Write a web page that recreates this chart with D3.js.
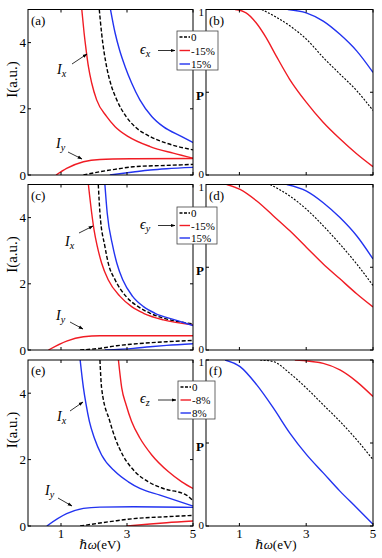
<!DOCTYPE html>
<html>
<head>
<meta charset="utf-8">
<script src="https://cdn.jsdelivr.net/npm/d3@7"></script>
<style>
  body { margin: 0; background: #fff; }
  svg, svg text { font-family: "Liberation Serif", "DejaVu Serif", serif; }
</style>
</head>
<body>
<script>
var xTicks = [1, 3, 5];
var iTicks = [0, 2, 4];
var pTicks = [0, 0.5, 1];

// (a) strain along x
var aIxRed  = [[1.63,5],[1.70,4.29],[1.76,3.79],[1.83,3.28],[1.93,2.78],[2.08,2.27],[2.38,1.77],[2.64,1.46],[3.04,1.16],[3.70,0.86],[4.40,0.66],[5,0.51]];
var aIxZero = [[2.16,5],[2.23,4.29],[2.38,3.28],[2.50,2.78],[2.69,2.27],[2.97,1.77],[3.24,1.46],[3.70,1.16],[4.20,0.96],[5,0.76]];
var aIxBlue = [[2.50,5],[2.64,4.29],[2.77,3.79],[2.94,3.28],[3.14,2.78],[3.39,2.27],[3.75,1.77],[4.10,1.46],[4.66,1.16],[5,0.98]];
var aIyRed  = [[0.85,0],[1.17,0.2],[1.68,0.4],[2.18,0.47],[3.19,0.49],[5,0.5]];
var aIyZero = [[1.68,0],[2.18,0.1],[2.69,0.18],[3.19,0.25],[4.2,0.29],[5,0.32]];
var aIyBlue = [[2.48,0],[3.19,0.09],[3.7,0.15],[4.2,0.19],[5,0.23]];
// (b)
var bPRed  = [[0.87,1],[1.2,0.98],[1.5,0.92],[1.8,0.83],[2.1,0.72],[2.5,0.58],[3.0,0.44],[3.5,0.32],[4.0,0.22],[4.5,0.13],[5,0.05]];
var bPZero = [[1.67,1],[2.52,0.9],[3.01,0.82],[3.51,0.71],[4.01,0.61],[4.51,0.51],[5,0.39]];
var bPBlue = [[2.45,1],[3.0,0.98],[3.51,0.93],[4.01,0.85],[4.51,0.75],[5,0.62]];

// (c) strain along y
var cIxRed  = [[1.83,5],[1.93,4.14],[2.0,3.64],[2.1,3.13],[2.23,2.63],[2.43,2.12],[2.79,1.62],[3.14,1.31],[3.5,1.11],[4.1,0.91],[5,0.76]];
var cIxZero = [[2.13,5],[2.18,4.14],[2.33,3.13],[2.43,2.63],[2.64,2.12],[2.97,1.62],[3.34,1.31],[3.7,1.11],[4.3,0.91],[5,0.79]];
var cIxBlue = [[2.33,5],[2.4,4.14],[2.57,3.13],[2.69,2.63],[2.87,2.12],[3.17,1.62],[3.5,1.31],[3.85,1.11],[4.45,0.91],[5,0.74]];
var cIyRed  = [[0.62,0],[1.17,0.27],[1.68,0.4],[2.18,0.43],[5,0.43]];
var cIyZero = [[1.58,0],[2.18,0.05],[2.69,0.13],[3.19,0.18],[4.2,0.25],[5,0.29]];
var cIyBlue = [[2.33,0],[3.19,0.05],[3.7,0.1],[4.2,0.14],[5,0.19]];
// (d)
var dPRed  = [[0.62,1],[1.02,0.97],[1.52,0.9],[2.02,0.81],[2.51,0.72],[3.01,0.62],[3.51,0.52],[4.01,0.43],[4.51,0.34],[5,0.26]];
var dPZero = [[1.92,1],[2.51,0.93],[3.01,0.85],[3.51,0.75],[4.01,0.64],[4.51,0.52],[5,0.39]];
var dPBlue = [[2.42,1],[3.01,0.96],[3.51,0.89],[4.01,0.8],[4.51,0.69],[5,0.55]];

// (e) strain along z
var eIxRed  = [[2.74,5],[2.84,4.16],[2.97,3.66],[3.14,3.15],[3.39,2.65],[3.75,2.14],[4.25,1.64],[4.66,1.33],[5,1.13]];
var eIxZero = [[2.18,5],[2.23,4.16],[2.48,3.15],[2.64,2.65],[2.87,2.14],[3.24,1.64],[3.65,1.33],[4.1,1.13],[4.8,0.93],[5,0.76]];
var eIxBlue = [[1.58,5],[1.68,4.16],[1.76,3.66],[1.86,3.15],[2.01,2.65],[2.23,2.14],[2.64,1.64],[3.04,1.33],[3.39,1.13],[4.0,0.93],[5,0.6]];
var eIyRed  = [[2.99,0],[3.7,0.06],[4.2,0.1],[5,0.15]];
var eIyZero = [[1.58,0],[2.18,0.09],[2.69,0.16],[3.19,0.22],[4.2,0.28],[5,0.32]];
var eIyBlue = [[0.57,0],[1.17,0.37],[1.68,0.53],[2.18,0.57],[3.19,0.58],[5,0.56]];
// (f)
var fPRed  = [[2.66,1],[3.51,0.98],[4.01,0.94],[4.51,0.87],[5,0.78]];
var fPZero = [[1.62,1],[2.02,0.99],[2.51,0.92],[3.01,0.83],[3.51,0.73],[4.01,0.63],[4.51,0.52],[5,0.4]];
var fPBlue = [[0.57,1],[1.02,0.96],[1.52,0.85],[2.02,0.71],[2.51,0.56],[3.01,0.43],[3.51,0.32],[4.01,0.21],[4.51,0.11],[5,0.01]];

var legendZ = ["0", "-15%", "15%"];
var legendZz = ["0", "-8%", "8%"];

var RED = "#f01c24", BLUE = "#2233f0", BLACK = "#000";
var SERIF = "'Liberation Serif', 'DejaVu Serif', serif";

var rows = [
  { top: 9.5, bot: 175, l: "(a)", r: "(b)", eps: "x", leg: legendZ,
    ix: [aIxZero, aIxRed, aIxBlue], iy: [aIyZero, aIyRed, aIyBlue], p: [bPZero, bPRed, bPBlue],
    ixLab: [57, 74], ixArr: [72, 64, 87, 54], iyLab: [56, 148], iyArr: [68, 152, 82, 159], box: [177, 31, 41, 39] },
  { top: 184.5, bot: 350, l: "(c)", r: "(d)", eps: "y", leg: legendZ,
    ix: [cIxZero, cIxRed, cIxBlue], iy: [cIyZero, cIyRed, cIyBlue], p: [dPZero, dPRed, dPBlue],
    ixLab: [65, 246], ixArr: [79, 233, 93, 226], iyLab: [56, 320], iyArr: [70, 322, 83, 329], box: [177, 207, 40, 37] },
  { top: 360, bot: 526, l: "(e)", r: "(f)", eps: "z", leg: legendZz,
    ix: [eIxZero, eIxRed, eIxBlue], iy: [eIyZero, eIyRed, eIyBlue], p: [fPZero, fPRed, fPBlue],
    ixLab: [57, 421], ixArr: [70, 411, 83, 402], iyLab: [45, 495], iyArr: [58, 498, 72, 506], box: [178, 381, 37, 38] }
];

var svg = d3.select("body").append("svg")
  .attr("width", 382).attr("height", 558)
  .attr("font-family", SERIF);

var defs = svg.append("defs");
defs.append("marker").attr("id", "arr")
  .attr("viewBox", "0 0 10 10").attr("refX", 9).attr("refY", 5)
  .attr("markerWidth", 6).attr("markerHeight", 6).attr("orient", "auto")
  .append("path").attr("d", "M0,1.5L10,5L0,8.5Z").attr("fill", "#000");

var xL = d3.scaleLinear().domain([0, 5]).range([28, 193]);
var xR = d3.scaleLinear().domain([0, 5]).range([206, 373]);
var colors = [BLACK, RED, BLUE];

function frame(g, x, y, yt, id) {
  var x0 = x.range()[0], x1 = x.range()[1], y0 = y.range()[1], y1 = y.range()[0];
  defs.append("clipPath").attr("id", id).append("rect")
    .attr("x", x0).attr("y", y0).attr("width", x1 - x0).attr("height", y1 - y0);
  g.append("rect").attr("x", x0).attr("y", y0).attr("width", x1 - x0).attr("height", y1 - y0)
    .attr("fill", "none").attr("stroke", "#000").attr("stroke-width", 1);
  // inward ticks all round
  g.selectAll(".xt").data(xTicks).enter().append("path")
    .attr("d", function(d) { return "M" + x(d) + "," + y1 + "v-3M" + x(d) + "," + y0 + "v3"; })
    .attr("stroke", "#000");
  g.selectAll(".yt").data(yt).enter().append("path")
    .attr("d", function(d) { return "M" + x0 + "," + y(d) + "h3M" + x1 + "," + y(d) + "h-3"; })
    .attr("stroke", "#000");
}

function curves(g, x, y, sets, id, fine) {
  var line = d3.line().x(function(d) { return x(d[0]); }).y(function(d) { return y(d[1]); })
    .curve(d3.curveMonotoneX);
  var cg = g.append("g").attr("clip-path", "url(#" + id + ")");
  sets.forEach(function(s, i) {
    cg.append("path").datum(s).attr("d", line)
      .attr("fill", "none").attr("stroke", colors[i])
      .attr("stroke-width", i === 0 && fine ? 1.1 : 1.4)
      .attr("stroke-dasharray", i === 0 ? (fine ? "2,1.5" : "4,2") : null);
  });
}

function italicSub(g, x, y, main, sub, size) {
  var t = g.append("text").attr("x", x).attr("y", y).attr("font-size", size);
  t.append("tspan").attr("font-style", "italic").text(main);
  t.append("tspan").attr("font-style", "italic").attr("font-size", size * 0.72).attr("dy", 3).text(sub);
  return t;
}

rows.forEach(function(r, k) {
  var g = svg.append("g");
  var yI = d3.scaleLinear().domain([0, 5]).range([r.bot, r.top]);
  var yP = d3.scaleLinear().domain([0, 1]).range([r.bot, r.top]);

  // left panel: intensities
  curves(g, xL, yI, r.ix, "cl" + k);
  curves(g, xL, yI, r.iy, "cl" + k);
  frame(g, xL, yI, iTicks, "cl" + k);
  g.selectAll(".yl").data(iTicks).enter().append("text")
    .attr("x", 26).attr("y", function(d) { return yI(d) + 4.5; })
    .attr("text-anchor", "end").attr("font-size", 13).text(function(d) { return d; });
  g.append("text").attr("transform", "translate(17," + (r.top + 70) + ") rotate(-90)")
    .attr("text-anchor", "middle").attr("font-size", 15).text("I(a.u.)");
  g.append("text").attr("x", 31).attr("y", r.top + 15).attr("font-size", 13).text(r.l);

  // right panel: polarization
  curves(g, xR, yP, r.p, "cr" + k, true);
  frame(g, xR, yP, pTicks, "cr" + k);
  g.append("text").attr("x", 204).attr("y", yP(1) + 6).attr("text-anchor", "end").attr("font-size", 11).text("1");
  g.append("text").attr("x", 204).attr("y", yP(0) + 2.5).attr("text-anchor", "end").attr("font-size", 11).text("0");
  g.append("text").attr("x", 200).attr("y", yP(0.5) + 8).attr("text-anchor", "middle")
    .attr("font-size", 13).attr("font-weight", "bold").text("P");
  g.append("text").attr("x", 209).attr("y", r.top + 15).attr("font-size", 13).text(r.r);

  // annotations
  italicSub(g, r.ixLab[0], r.ixLab[1], "I", "x", 14);
  italicSub(g, r.iyLab[0], r.iyLab[1], "I", "y", 14);
  [r.ixArr, r.iyArr].forEach(function(a) {
    g.append("line").attr("x1", a[0]).attr("y1", a[1]).attr("x2", a[2]).attr("y2", a[3])
      .attr("stroke", "#000").attr("stroke-width", 0.8).attr("marker-end", "url(#arr)");
  });

  // strain legend
  var b = r.box;
  var midY = b[1] + b[3] / 2;
  italicSub(g, 140, midY + 3, "\u03f5", r.eps, 14);
  g.append("line").attr("x1", 158).attr("y1", midY).attr("x2", b[0] - 2).attr("y2", midY)
    .attr("stroke", "#000").attr("stroke-width", 0.8).attr("marker-end", "url(#arr)");
  var lg = g.append("g");
  lg.append("rect").attr("x", b[0]).attr("y", b[1]).attr("width", b[2]).attr("height", b[3])
    .attr("fill", "#fff").attr("stroke", "#444").attr("stroke-width", 0.8);
  r.leg.forEach(function(s, i) {
    var yy = b[1] + 6 + i * (b[3] - 12) / 2;
    lg.append("line").attr("x1", b[0] + 2.5).attr("x2", b[0] + 13).attr("y1", yy).attr("y2", yy)
      .attr("stroke", colors[i]).attr("stroke-width", 1.4)
      .attr("stroke-dasharray", i === 0 ? "3,1.5" : null);
    lg.append("text").attr("x", b[0] + 14).attr("y", yy + 4).attr("font-size", 11).text(s);
  });

  // x tick labels only under the last row
  if (k === rows.length - 1) {
    [xL, xR].forEach(function(x) {
      g.selectAll(null).data(xTicks).enter().append("text")
        .attr("x", function(d) { return x(d); }).attr("y", 538)
        .attr("text-anchor", "middle").attr("font-size", 13).text(function(d) { return d; });
    });
    [[100, "\u210f\u03c9"], [276, "\u210f\u03c9"]].forEach(function(p) {
      var t = g.append("text").attr("x", p[0]).attr("y", 549).attr("text-anchor", "middle").attr("font-size", 13);
      t.append("tspan").attr("font-style", "italic").text(p[1]);
      t.append("tspan").text("(eV)");
    });
  }
});
</script>
</body>
</html>
